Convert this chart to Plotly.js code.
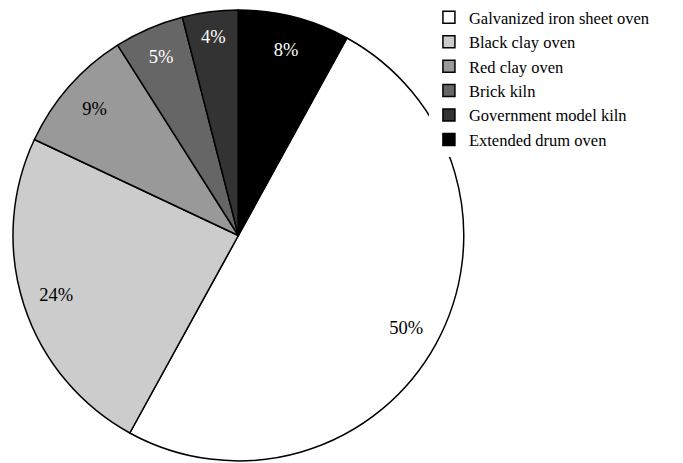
<!DOCTYPE html>
<html>
<head>
<meta charset="utf-8">
<script src="https://cdn.plot.ly/plotly-3.0.1.min.js"></script>
<style>html,body{margin:0;padding:0;background:#fff;}#chart{width:683px;height:463px;}</style>
</head>
<body>
<div id="chart"></div>
<script>
const categories = ["Galvanized iron sheet oven", "Black clay oven", "Red clay oven", "Brick kiln", "Government model kiln", "Extended drum oven"];
const shares = [50, 24, 9, 5, 4, 8];
const sliceColors = ["#ffffff", "#cccccc", "#999999", "#666666", "#333333", "#000000"];
const labelColors = ["#000000", "#000000", "#000000", "#ffffff", "#ffffff", "#ffffff"];

const pieDomain = {x: [0.019, 0.679], y: [0.002, 0.985]};

const slices = {
  type: "pie",
  labels: categories,
  values: shares,
  sort: false,
  direction: "clockwise",
  rotation: 28.8,
  marker: {colors: sliceColors, line: {color: "#000000", width: 1.5}},
  textinfo: "none",
  hoverinfo: "none",
  domain: pieDomain
};

// transparent ring used only to place the percentage labels toward the rim
const labelRing = {
  type: "pie",
  labels: categories,
  values: shares,
  sort: false,
  direction: "clockwise",
  rotation: 28.8,
  hole: 0.7,
  showlegend: false,
  marker: {colors: sliceColors.map(() => "rgba(0,0,0,0)"), line: {width: 0}},
  textinfo: "percent",
  textposition: "inside",
  insidetextorientation: "horizontal",
  textfont: {family: "Liberation Serif", size: 18.5, color: labelColors},
  hoverinfo: "none",
  domain: pieDomain
};

const layout = {
  width: 683,
  height: 463,
  margin: {l: 0, r: 0, t: 0, b: 0},
  paper_bgcolor: "#ffffff",
  showlegend: true,
  legend: {
    x: 0.628, y: 1.005, xanchor: "left", yanchor: "top",
    font: {family: "Liberation Serif", size: 16.5, color: "#000000"},
    tracegroupgap: 0,
    itemwidth: 30
  }
};

Plotly.newPlot("chart", [slices, labelRing], layout, {displayModeBar: false, staticPlot: true});
</script>
</body>
</html>
